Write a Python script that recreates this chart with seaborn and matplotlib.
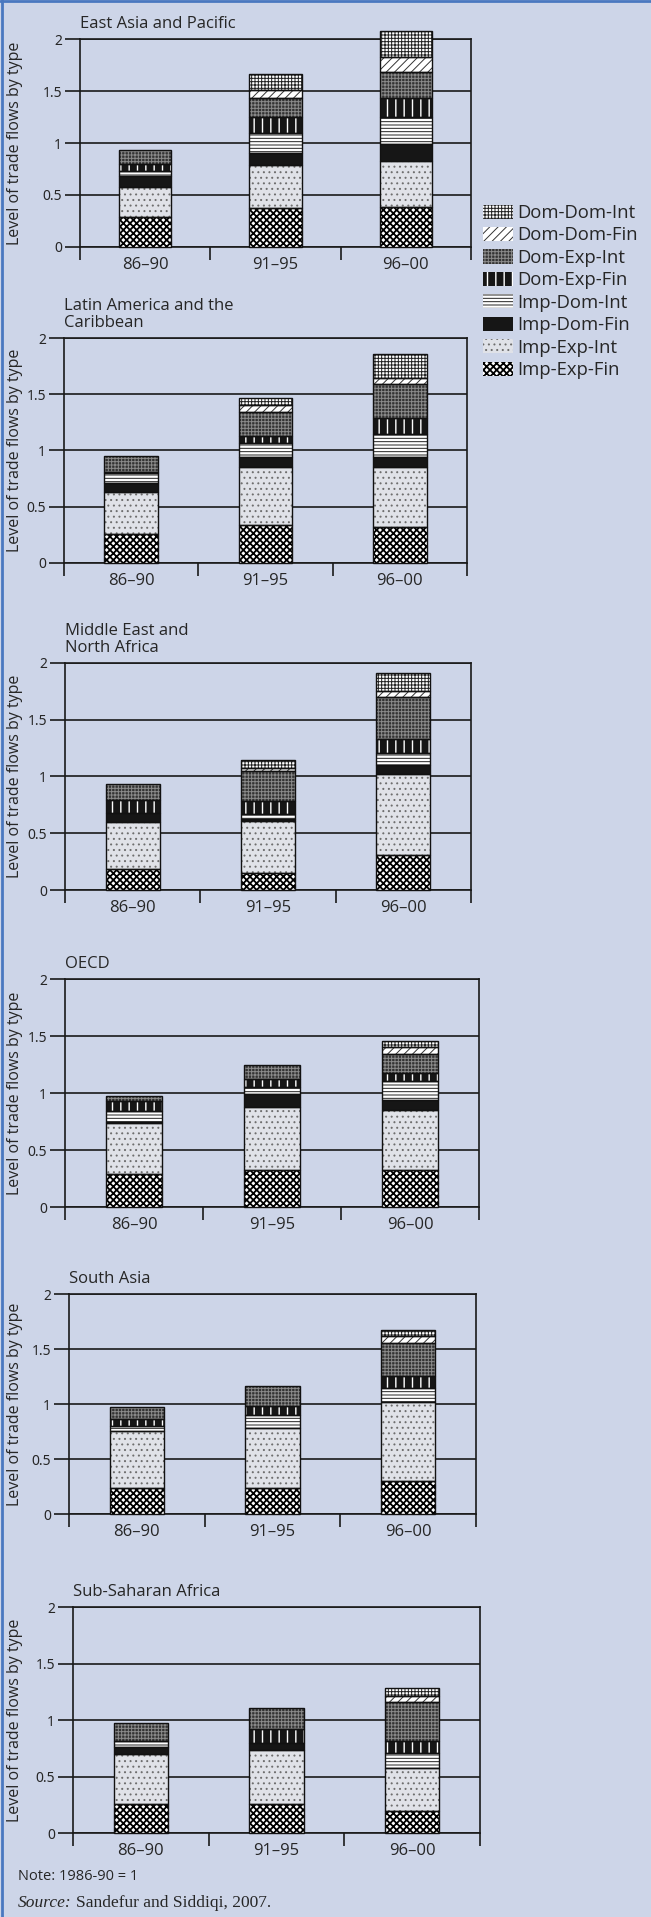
import numpy as np
import matplotlib
matplotlib.use("Agg")
import matplotlib.pyplot as plt
import seaborn as sns
from matplotlib.patches import Patch, Rectangle
from matplotlib.lines import Line2D

# ---------------- data ----------------
periods = ["86–90", "91–95", "96–00"]
# stacking order, bottom to top
flow_types = ["Imp-Exp-Fin", "Imp-Exp-Int", "Imp-Dom-Fin", "Imp-Dom-Int",
              "Dom-Exp-Fin", "Dom-Exp-Int", "Dom-Dom-Fin", "Dom-Dom-Int"]
region_titles = ["East Asia and Pacific", "Latin America and the\nCaribbean",
                 "Middle East and\nNorth Africa", "OECD", "South Asia",
                 "Sub-Saharan Africa"]

# each row = one period, values in flow_types order
east_asia_pacific = [[0.290, 0.285, 0.105, 0.050, 0.070, 0.135, 0.000, 0.000],
                     [0.375, 0.415, 0.117, 0.186, 0.154, 0.183, 0.080, 0.150],
                     [0.388, 0.442, 0.160, 0.263, 0.177, 0.256, 0.138, 0.253]]
latin_america = [[0.257, 0.378, 0.080, 0.083, 0.015, 0.135, 0.000, 0.000],
                 [0.340, 0.511, 0.094, 0.118, 0.065, 0.216, 0.059, 0.068],
                 [0.319, 0.538, 0.088, 0.198, 0.148, 0.298, 0.059, 0.213]]
middle_east = [[0.188, 0.415, 0.073, 0.000, 0.118, 0.138, 0.000, 0.000],
               [0.153, 0.459, 0.010, 0.050, 0.110, 0.265, 0.030, 0.065],
               [0.309, 0.715, 0.073, 0.109, 0.123, 0.371, 0.050, 0.160]]
oecd = [[0.289, 0.447, 0.010, 0.100, 0.080, 0.052, 0.000, 0.000],
        [0.327, 0.549, 0.117, 0.064, 0.067, 0.120, 0.000, 0.000],
        [0.327, 0.527, 0.088, 0.159, 0.073, 0.169, 0.058, 0.056]]
south_asia = [[0.236, 0.522, 0.000, 0.040, 0.070, 0.106, 0.000, 0.000],
              [0.236, 0.546, 0.000, 0.115, 0.082, 0.182, 0.000, 0.000],
              [0.297, 0.721, 0.000, 0.127, 0.113, 0.297, 0.060, 0.061]]
sub_saharan = [[0.256, 0.441, 0.062, 0.059, 0.000, 0.158, 0.000, 0.000],
               [0.256, 0.479, 0.065, 0.000, 0.118, 0.185, 0.000, 0.000],
               [0.197, 0.382, 0.000, 0.127, 0.109, 0.347, 0.050, 0.067]]
region_values = [east_asia_pacific, latin_america, middle_east, oecd,
                 south_asia, sub_saharan]

y_ticks = [0, 0.5, 1, 1.5, 2]
y_tick_labels = ["0", "0.5", "1", "1.5", "2"]

# ---------------- styles ----------------
BG = "#CDD5E8"
BORDER = "#4A78C0"
styles = {
    "Imp-Exp-Fin": dict(fc="white", hatch="xxxxx", hc="black", hlw=1.3),
    "Imp-Exp-Int": dict(fc="#e0e2e8", hatch="...", hc="#6e6e6e", hlw=0.7),
    "Imp-Dom-Fin": dict(fc="#161616", hatch="", hc="#161616", hlw=0.7),
    "Imp-Dom-Int": dict(fc="white", hatch="-----", hc="#222222", hlw=0.7),
    "Dom-Exp-Fin": dict(fc="#161616", hatch="||", hc="white", hlw=1.0),
    "Dom-Exp-Int": dict(fc="#333333", hatch="+++++", hc="#8a8a8a", hlw=0.7),
    "Dom-Dom-Fin": dict(fc="white", hatch="////", hc="#333333", hlw=0.7),
    "Dom-Dom-Int": dict(fc="white", hatch="+++++", hc="#222222", hlw=0.7),
}

sns.set_theme(style="white")
plt.rcParams["font.family"] = ["Open Sans", "DejaVu Sans"]
plt.rcParams["hatch.linewidth"] = 0.7


def style_patch(p, st):
    p.set_facecolor(st["fc"])
    p.set_hatch(st["hatch"])
    p.set_edgecolor(st["hc"])
    p.set_linewidth(0)
    if hasattr(p, "set_hatch_linewidth"):
        p.set_hatch_linewidth(st["hlw"])


W, H = 651, 1917
fig = plt.figure(figsize=(W / 100, H / 100), dpi=100, facecolor=BG)

# axes boxes in pixels: left, right, top, bottom
boxes = [(80, 471, 39, 247), (64, 467, 338, 563), (65, 471, 663, 890),
         (65, 479, 979, 1207), (69, 476, 1294, 1514), (73, 480, 1607, 1833)]

for (l, r, t, b), title, data in zip(boxes, region_titles, region_values):
    ax = fig.add_axes([l / W, 1 - b / H, (r - l) / W, (b - t) / H])
    ax.set_facecolor("none")
    vals = np.array(data)
    bottoms = np.zeros(len(periods))
    for j, ft in enumerate(flow_types):
        st = styles[ft]
        h = vals[:, j]
        n0 = len(ax.patches)
        sns.barplot(x=periods, y=h, order=periods, ax=ax, bottom=bottoms.copy(),
                    width=0.4, saturation=1, color=st["fc"], errorbar=None,
                    clip_on=False, zorder=3)
        new = list(ax.patches[n0:])
        for p in new:
            style_patch(p, st)
            if p.get_height() > 0:
                ax.add_patch(Rectangle((p.get_x(), p.get_y()), p.get_width(),
                                       p.get_height(), fill=False, ec="#111111",
                                       lw=1.0, zorder=4, clip_on=False))
        bottoms += h

    ax.set_ylim(0, 2)
    ax.set_xlim(-0.5, len(periods) - 0.5)
    ax.set_yticks(y_ticks)
    ax.set_yticklabels(y_tick_labels, fontsize=10, fontweight="bold",
                       family=["Noto Sans", "DejaVu Sans"])
    ax.yaxis.grid(True, color="#1a1a1a", lw=1.2, zorder=1)
    ax.set_axisbelow(True)
    ax.tick_params(axis="y", direction="out", length=11, width=1.2,
                   color="#1a1a1a", pad=2, left=True)
    ax.set_xticks(range(len(periods)))
    ax.set_xticklabels(periods, fontsize=12)
    ax.set_xticks(np.arange(-0.5, len(periods)), minor=True)
    ax.tick_params(axis="x", which="major", length=0, pad=7)
    ax.tick_params(axis="x", which="minor", direction="out", length=9,
                   width=1.2, color="#1a1a1a", bottom=True)
    ax.set_xlabel("")
    ax.set_ylabel("")
    for s in ax.spines.values():
        s.set_color("#1a1a1a")
        s.set_linewidth(1.2)
        s.set_visible(True)
    ax.set_title(title, loc="left", fontsize=12, pad=8, linespacing=1.1)
    fig.text(15 / W, 1 - (t + b) / 2 / H, "Level of trade flows by type",
             rotation=90, ha="center", va="center", fontsize=11.5)

# legend
handles = []
for ft in flow_types[::-1]:
    st = styles[ft]
    hp = Patch(facecolor=st["fc"], edgecolor=st["hc"], hatch=st["hatch"], lw=0)
    handles.append(hp)
leg = fig.legend(handles, flow_types[::-1], loc="upper left",
                 bbox_to_anchor=(483 / W, 1 - 204 / H), frameon=False,
                 fontsize=13.3, handlelength=1.65, handleheight=0.8,
                 handletextpad=0.22, labelspacing=0.24, borderaxespad=0,
                 borderpad=0)
for hp, ft in zip(leg.get_patches(), flow_types[::-1]):
    if hasattr(hp, "set_hatch_linewidth"):
        hp.set_hatch_linewidth(styles[ft]["hlw"])

# notes
fig.text(18 / W, 1 - 1876 / H, "Note: 1986-90 = 1", va="center", fontsize=10.5)
t1 = fig.text(18 / W, 1 - 1903 / H, "Source:", va="center", fontsize=12.5,
              family="Liberation Serif", style="italic")
fig.canvas.draw()
bb = t1.get_window_extent(fig.canvas.get_renderer())
fig.text(bb.x1 / W + 4 / W, 1 - 1903 / H, "Sandefur and Siddiqi, 2007.",
         va="center", fontsize=12.5, family="Liberation Serif")

# page border
fig.add_artist(Line2D([0, 1], [1 - 1 / H, 1 - 1 / H], color=BORDER, lw=2,
                      transform=fig.transFigure))
fig.add_artist(Line2D([2 / W, 2 / W], [0, 1], color=BORDER, lw=2,
                      transform=fig.transFigure))

fig.savefig("out.png", dpi=100, facecolor=BG)
